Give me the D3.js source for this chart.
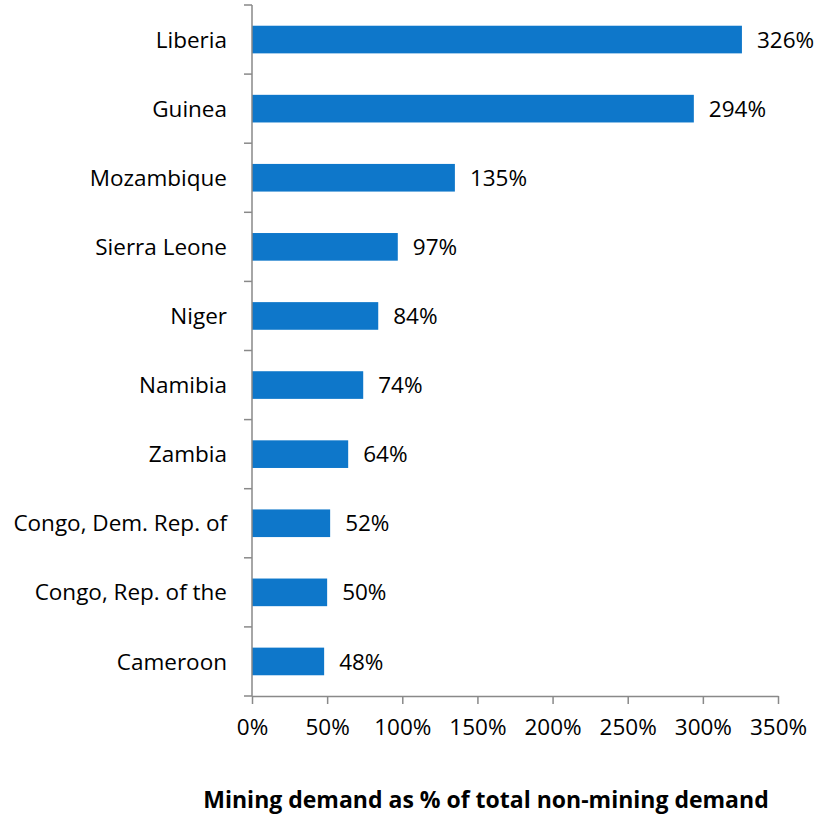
<!DOCTYPE html>
<html>
<head>
<meta charset="utf-8">
<script src="https://cdn.jsdelivr.net/npm/d3@7"></script>
<style>
  body { margin: 0; background: #fff; }
  svg { display: block; font-family: "Open Sans", sans-serif; }
</style>
</head>
<body>
<svg id="chart" width="827" height="822"></svg>
<script>
// chart data
const countries = ['Liberia', 'Guinea', 'Mozambique', 'Sierra Leone', 'Niger',
    'Namibia', 'Zambia', 'Congo, Dem. Rep. of', 'Congo, Rep. of the', 'Cameroon'];
const shares = [326, 294, 135, 97, 84, 74, 64, 52, 50, 48];
const xTicks = [0, 50, 100, 150, 200, 250, 300, 350];
const axisTitle = 'Mining demand as % of total non-mining demand';

const svg = d3.select('#chart');
const margin = { left: 252, top: 5 };
const plotW = 526;
const plotH = 691;
const labelSize = 22.5;

const g = svg.append('g').attr('transform', `translate(${margin.left},${margin.top})`);

const x = d3.scaleLinear().domain([0, 350]).range([0, plotW]);
const y = d3.scaleBand().domain(countries).range([0, plotH]).paddingInner(0.6).paddingOuter(0.3);

const axisColor = '#898989';

// bars
g.selectAll('.bar')
    .data(countries)
    .enter()
    .append('rect')
    .attr('class', 'bar')
    .attr('x', 0)
    .attr('y', d => y(d))
    .attr('width', (d, i) => x(shares[i]))
    .attr('height', y.bandwidth())
    .attr('fill', '#0E77CA');

// value labels
g.selectAll('.val')
    .data(countries)
    .enter()
    .append('text')
    .attr('class', 'val')
    .attr('x', (d, i) => x(shares[i]) + 15)
    .attr('y', d => y(d) + y.bandwidth() / 2)
    .attr('dy', '0.36em')
    .attr('font-size', labelSize)
    .attr('fill', '#000')
    .text((d, i) => shares[i] + '%');

// y axis: line + ticks at band edges
const step = y.step();
g.append('line')
    .attr('x1', 0).attr('x2', 0)
    .attr('y1', 0).attr('y2', plotH)
    .attr('stroke', axisColor).attr('stroke-width', 1.5);

g.selectAll('.ytick')
    .data(d3.range(countries.length + 1))
    .enter()
    .append('line')
    .attr('x1', -8).attr('x2', 0)
    .attr('y1', i => i * step).attr('y2', i => i * step)
    .attr('stroke', axisColor).attr('stroke-width', 1.5);

g.selectAll('.ylab')
    .data(countries)
    .enter()
    .append('text')
    .attr('x', -25)
    .attr('y', d => y(d) + y.bandwidth() / 2)
    .attr('dy', '0.36em')
    .attr('text-anchor', 'end')
    .attr('font-size', labelSize)
    .text(d => d);

// x axis
const xAxis = g.append('g')
    .attr('transform', `translate(0,${plotH})`)
    .call(d3.axisBottom(x).tickValues(xTicks).tickSize(8).tickSizeOuter(0).tickPadding(15)
        .tickFormat(d => d + '%'));
xAxis.select('.domain').attr('stroke', axisColor).attr('stroke-width', 1.5);
xAxis.selectAll('.tick line').attr('stroke', axisColor).attr('stroke-width', 1.5);
xAxis.selectAll('.tick text')
    .attr('font-size', labelSize)
    .attr('font-family', '"Open Sans", sans-serif')
    .attr('fill', '#000');

// axis title
svg.append('text')
    .attr('x', 486)
    .attr('y', 808)
    .attr('text-anchor', 'middle')
    .attr('font-size', 23)
    .attr('font-weight', 'bold')
    .text(axisTitle);
</script>
</body>
</html>
